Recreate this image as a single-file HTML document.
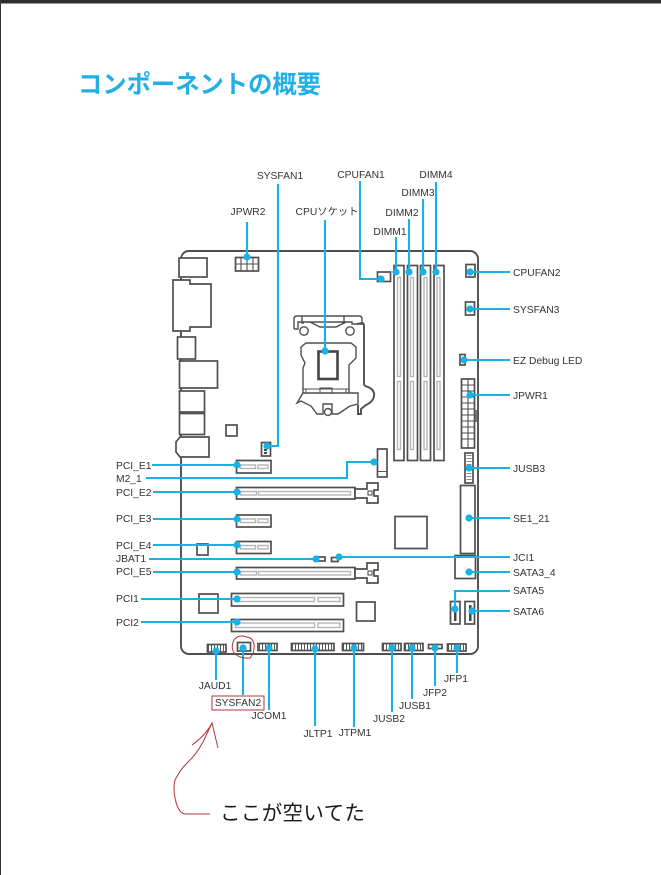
<!DOCTYPE html>
<html><head><meta charset="utf-8">
<style>
html,body{margin:0;padding:0;background:#fff;width:661px;height:875px;overflow:hidden}
svg{display:block}
text{font-family:"Liberation Sans","Noto Sans CJK JP",sans-serif;font-size:10.3px;fill:#333}
.b{fill:#fff;stroke:#4f4f4f;stroke-width:1.7}
.t{fill:none;stroke:#4f4f4f;stroke-width:1.1}
.g{fill:#fff;stroke:#b5b5b5;stroke-width:1.4}
.d{fill:none;stroke:#555;stroke-width:6;stroke-dasharray:1 2}
.c{fill:none;stroke:#1ab1e4;stroke-width:2.1}
.p{fill:#1ab1e4}
.r{fill:none;stroke:#b2353b;stroke-width:1}
.m{text-anchor:middle}
</style></head><body>
<svg width="661" height="875" viewBox="0 0 661 875" xmlns="http://www.w3.org/2000/svg">
<rect width="661" height="875" fill="#fff"/>
<rect width="661" height="3.5" fill="#2e2e33"/>
<rect width="1" height="875" fill="#333"/>
<text x="78" y="93" textLength="243" lengthAdjust="spacingAndGlyphs" style="font-size:25px;font-weight:700;fill:#22afe6">コンポーネントの概要</text>

<!-- board -->
<path d="M181 259a8 8 0 0 1 8-8H470a8 8 0 0 1 8 8V646a8 8 0 0 1-8 8H189a8 8 0 0 1-8-8Z" fill="#fff" stroke="#4f4f4f" stroke-width="1.9"/>

<!-- I/O -->
<rect class="b" x="179" y="258" width="28" height="19"/>
<path class="b" d="M173 280H190V284H211V327H190V331H173Z"/>
<rect class="b" x="177.500" y="337" width="18" height="22"/>
<rect class="b" x="179.500" y="361" width="38" height="27"/>
<rect class="b" x="179.500" y="391" width="25" height="21"/>
<rect class="b" x="179.500" y="413.500" width="25" height="21"/>
<path class="b" d="M180 437H209V457H180L176 452V442Z"/>
<rect class="b" x="226" y="425" width="11" height="11"/>

<!-- JPWR2 -->
<rect class="b" x="235.500" y="257.500" width="23" height="13.500"/>
<path class="t" d="M241 257V271M247 257V271M253 257V271M235 264H259"/>
<!-- SYSFAN1 conn -->
<rect class="b" x="261.500" y="442.500" width="9" height="13.500"/>
<rect x="264" y="449" width="3" height="2" fill="#444"/><rect x="264" y="452" width="3" height="2" fill="#444"/>

<!-- CPU socket -->
<g fill="#fff" stroke="#4f4f4f" stroke-width="1.4">
<path d="M294 329V319Q294 316 297 316H359Q362 316 362 319V325"/>
<path d="M294 329H298V322H352V324H362" fill="none"/>
<path d="M302 316V323H304M344 316V323H342" fill="none"/>
<path d="M310 322L320 327H336L346 322" fill="none"/>
<circle cx="304" cy="331" r="4.200"/><circle cx="350" cy="331" r="4.200"/>
<path d="M301 347L306 343H351L356 347V358L349 365V375L349 393H303V368L305 363L301 355Z"/>
<path d="M303 389H349M306 393V389M346 393V389M320 393V388H332V393" fill="none" stroke-width="1"/>
<path d="M303 393L297 403L301 401L311 406L317 414H323V404H332V414H338L350 406L358 404V393H349" fill="none"/>
<circle cx="328" cy="412" r="3.500"/>
<path d="M357 324L362 323Q364 323 364 326V384Q364 386 368 387Q375 390 374 396Q373 402 366 405L361 409V414H358V405" fill="none" stroke-width="1.900"/>
</g>
<rect x="318.500" y="351.500" width="19" height="27.500" fill="#fff" stroke="#444" stroke-width="2.600"/>

<!-- DIMMs -->
<g>
<rect class="b" x="394" y="265.500" width="10" height="195"/><rect class="g" x="397.500" y="277.500" width="3" height="99"/><rect class="g" x="397.500" y="381.500" width="3" height="68"/>
<rect class="b" x="407.500" y="265.500" width="10" height="195"/><rect class="g" x="410.500" y="277.500" width="3" height="99"/><rect class="g" x="410.500" y="381.500" width="3" height="68"/>
<rect class="b" x="420.500" y="265.500" width="10" height="195"/><rect class="g" x="424" y="277.500" width="3" height="99"/><rect class="g" x="424" y="381.500" width="3" height="68"/>
<rect class="b" x="434" y="265.500" width="10" height="195"/><rect class="g" x="437" y="277.500" width="3" height="99"/><rect class="g" x="437" y="381.500" width="3" height="68"/>
</g>
<!-- CPUFAN1 -->
<rect class="b" x="377.500" y="272" width="13" height="9.500"/>
<!-- Right connectors -->
<rect class="b" x="466" y="264.500" width="9" height="12.500"/>
<rect class="b" x="465.500" y="302" width="9" height="13"/>
<rect class="b" x="460" y="354.500" width="5" height="10.500"/>
<rect class="b" x="461.500" y="379" width="13" height="69"/>
<path class="t" d="M468 379V448M461 385H475M461 391H475M461 397H475M461 403H475M461 409H475M461 415H475M461 421H475M461 427H475M461 433H475M461 439H475"/>
<rect x="475" y="410" width="2" height="12" fill="#777"/>
<rect class="b" x="465" y="453" width="8" height="30"/>
<path d="M469 455V481" fill="none" stroke="#888" stroke-width="5" stroke-dasharray="1 2"/>
<rect class="b" x="460.500" y="485.500" width="14.500" height="68"/>
<rect class="b" x="455" y="555.500" width="20.500" height="23"/>
<rect class="b" x="450.500" y="601.500" width="9.500" height="22.500"/>
<rect x="454" y="607" width="2.500" height="14" fill="#444"/>
<rect class="b" x="465" y="601.500" width="9.500" height="22.500"/>
<rect x="469" y="605" width="2.500" height="16" fill="#444"/>

<!-- M.2 -->
<rect class="b" x="377.500" y="449" width="9.500" height="28"/>
<rect x="377" y="471" width="10" height="1" fill="#555"/>

<!-- PCIe -->
<g id="x1">
<rect class="b" x="236.500" y="460.500" width="34.500" height="12.500"/><rect class="g" x="240.500" y="465" width="15" height="3.500"/><rect class="g" x="258" y="465" width="10" height="3.500"/>
<rect class="b" x="236.500" y="515" width="34.500" height="12"/><rect class="g" x="240.500" y="519" width="15" height="3.500"/><rect class="g" x="258" y="519" width="10" height="3.500"/>
<rect class="b" x="236.500" y="541.500" width="34.500" height="12"/><rect class="g" x="240.500" y="545.500" width="15" height="3.500"/><rect class="g" x="258" y="545.500" width="10" height="3.500"/>
</g>
<g id="x16">
<rect class="b" x="236.500" y="487.500" width="118.500" height="11.500"/><rect class="g" x="240.500" y="491.500" width="16" height="3.500"/><rect class="g" x="258.500" y="491.500" width="92" height="3.500"/>
<path class="b" d="M355 489H367V483H378V490H374V496H378V503H367V498H355Z"/><rect class="t" x="368" y="491" width="4" height="4"/>
<rect class="b" x="236.500" y="567.500" width="118.500" height="11.500"/><rect class="g" x="240.500" y="571.500" width="16" height="3.500"/><rect class="g" x="258.500" y="571.500" width="92" height="3.500"/>
<path class="b" d="M355 569H367V563H378V570H374V576H378V583H367V578H355Z"/><rect class="t" x="368" y="571" width="4" height="4"/>
</g>
<!-- PCI -->
<rect class="b" x="231.500" y="593.500" width="112" height="12.500"/><rect class="g" x="235.500" y="597.500" width="79" height="4"/><rect class="g" x="318" y="597.500" width="22" height="4"/>
<rect class="b" x="231.500" y="619.500" width="112" height="12"/><rect class="g" x="235.500" y="623" width="79" height="4.500"/><rect class="g" x="318" y="623" width="22" height="4.500"/>

<!-- chips -->
<rect class="b" x="395" y="516.500" width="32" height="32"/>
<rect class="b" x="197" y="544" width="11" height="11"/>
<rect class="b" x="199" y="594" width="19" height="19"/>
<rect class="b" x="356.500" y="602" width="18.500" height="19"/>
<!-- JBAT/JCI -->
<rect class="b" x="318" y="557" width="7" height="4"/><rect class="b" x="331.500" y="557.500" width="6.500" height="4"/>

<!-- bottom headers -->
<g>
<rect class="b" x="207.500" y="644.500" width="18.500" height="7.500"/><path class="d" d="M208 648H226"/>
<rect class="b" x="237.500" y="642.500" width="13" height="8.500"/>
<rect class="b" x="258" y="643.500" width="19" height="7"/><path class="d" d="M259 647H277"/>
<rect class="b" x="291.500" y="643.500" width="42.500" height="7"/><path class="d" d="M292 647H334"/>
<rect class="b" x="342.500" y="643.500" width="21" height="7"/><path class="d" d="M343 647H364"/>
<rect class="b" x="382.500" y="643.500" width="18.500" height="7"/><path class="d" d="M383 647H401"/>
<rect class="b" x="404.500" y="643.500" width="18.500" height="7"/><path class="d" d="M405 647H423"/>
<rect class="b" x="428.500" y="644.500" width="13.500" height="4"/>
<rect class="b" x="447.500" y="644" width="18.500" height="7"/><path class="d" d="M448 647H466"/>
</g>

<!-- connectors -->
<path class="c" d="M247 222V257M278 184V446H267M325 220V351M360 181V279H381M396 237V272M409 219V272M423 199V272M436 182V272
M470 272H510M470 309H510M464 360H510M470 395H510M469 468H510M469 518H510M469 572H510M339 557H510M455 609V591H510M472 611H510
M152 465H237M146 478H347V462H374M153 492H237M153 519H237M153 545H237M149 559H316M153 572H237M141 599H237M141 622H237
M216 651V680M243 648V695M269 648V710M315 649V726M354 648V727M392 648V712M412 648V699M435 648V686M457 648V673"/>
<g class="p">
<circle cx="247" cy="257" r="3.600"/><circle cx="267" cy="446" r="3.600"/><circle cx="325" cy="351" r="3.600"/><circle cx="381" cy="279" r="3.600"/>
<circle cx="396" cy="272" r="3.600"/><circle cx="409" cy="272" r="3.600"/><circle cx="423" cy="272" r="3.600"/><circle cx="436" cy="272" r="3.600"/>
<circle cx="470" cy="272" r="3.600"/><circle cx="470" cy="309" r="3.600"/><circle cx="464" cy="360" r="3.600"/><circle cx="470" cy="395" r="3.600"/>
<circle cx="469" cy="468" r="3.600"/><circle cx="469" cy="518" r="3.600"/><circle cx="469" cy="572" r="3.600"/><circle cx="339" cy="557" r="3.600"/>
<circle cx="455" cy="609" r="3.600"/><circle cx="472" cy="611" r="3.600"/>
<circle cx="237" cy="465" r="3.600"/><circle cx="374" cy="462" r="3.600"/><circle cx="237" cy="492" r="3.600"/><circle cx="237" cy="519" r="3.600"/>
<circle cx="237" cy="545" r="3.600"/><circle cx="316" cy="559" r="3.600"/><circle cx="237" cy="572" r="3.600"/><circle cx="237" cy="599" r="3.600"/><circle cx="237" cy="622" r="3.600"/>
<circle cx="216" cy="651" r="3.600"/><circle cx="243" cy="648" r="3.600"/><circle cx="269" cy="648" r="3.600"/><circle cx="315" cy="649" r="3.600"/>
<circle cx="354" cy="648" r="3.600"/><circle cx="392" cy="648" r="3.600"/><circle cx="412" cy="648" r="3.600"/><circle cx="435" cy="648" r="3.600"/><circle cx="457" cy="648" r="3.600"/>
</g>

<!-- top labels -->
<text class="m" x="280" y="179">SYSFAN1</text>
<text class="m" x="361" y="178">CPUFAN1</text>
<text class="m" x="436" y="178">DIMM4</text>
<text class="m" x="418" y="196">DIMM3</text>
<text class="m" x="402" y="216">DIMM2</text>
<text class="m" x="390" y="235">DIMM1</text>
<text class="m" x="248" y="215">JPWR2</text>
<text class="m" x="327" y="215">CPUソケット</text>
<!-- right labels -->
<text x="513" y="276">CPUFAN2</text>
<text x="513" y="313">SYSFAN3</text>
<text x="513" y="364">EZ Debug LED</text>
<text x="513" y="399">JPWR1</text>
<text x="513" y="472">JUSB3</text>
<text x="513" y="522">SE1_21</text>
<text x="513" y="561">JCI1</text>
<text x="513" y="576">SATA3_4</text>
<text x="513" y="594">SATA5</text>
<text x="513" y="615">SATA6</text>
<!-- left labels -->
<text x="116" y="469">PCI_E1</text>
<text x="116" y="482">M2_1</text>
<text x="116" y="496">PCI_E2</text>
<text x="116" y="522">PCI_E3</text>
<text x="116" y="549">PCI_E4</text>
<text x="116" y="562">JBAT1</text>
<text x="116" y="575">PCI_E5</text>
<text x="116" y="602">PCI1</text>
<text x="116" y="626">PCI2</text>
<!-- bottom labels -->
<text class="m" x="215" y="689">JAUD1</text>
<text class="m" x="238" y="706">SYSFAN2</text>
<text class="m" x="269" y="719">JCOM1</text>
<text class="m" x="318" y="737">JLTP1</text>
<text class="m" x="355" y="736">JTPM1</text>
<text class="m" x="389" y="722">JUSB2</text>
<text class="m" x="415" y="709">JUSB1</text>
<text class="m" x="435" y="696">JFP2</text>
<text class="m" x="456" y="682">JFP1</text>

<!-- red annotations -->
<rect class="r" x="212" y="696" width="52" height="14"/>
<path class="r" d="M247 637Q238 634 234 640Q230 648 235 654Q241 659 250 658Q255 652 254 644Q253 638 247 637Z"/>
<path class="r" d="M210 814H185Q178 813 175 798Q173 788 175 780Q180 770 187 763Q196 755 203 742L212 723L218 748M212 723Q206 735 192 745"/>

<text x="220" y="820" textLength="145" style="font-size:20.5px;fill:#1a1a1a;font-family:'Noto Sans CJK JP',sans-serif">ここが空いてた</text>
</svg>
</body></html>
